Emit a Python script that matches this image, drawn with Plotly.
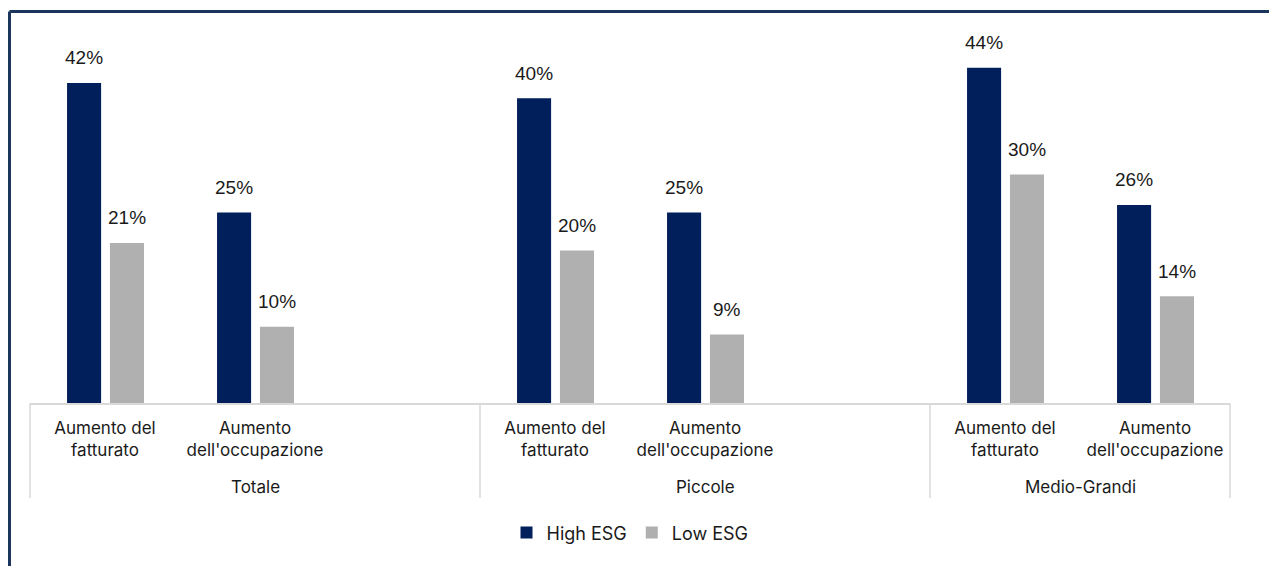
import plotly.graph_objects as go

groups = ["Totale", "Piccole", "Medio-Grandi"]
measures = ["Aumento del<br>fatturato", "Aumento<br>dell'occupazione"]
slots_per_group = [3, 3, 2]
high_esg = [42, 25, 40, 25, 44, 26]
low_esg = [21, 10, 20, 9, 30, 14]
series_names = ["High ESG", "Low ESG"]
colors = ["#001f5b", "#b0b0b0"]

# slot positions derived from structure
starts = []
s = 0
for n in slots_per_group:
    starts.append(s)
    s += n
total_slots = s
xs, ticktext = [], []
for g, st in enumerate(starts):
    for m, lab in enumerate(measures):
        xs.append(st + m)
        ticktext.append(lab)

bar_w = 0.227
offsets = [-0.253, 0.033]
label_font = dict(family="Liberation Sans, Arial", size=19, color="#1a1a1a")
text_font = dict(family="Inter, Noto Sans", size=17, color="#1a1a1a")

fig = go.Figure()
for name, vals, col, off in zip(series_names, [high_esg, low_esg], colors, offsets):
    fig.add_trace(go.Bar(x=xs, y=vals, name=name, marker=dict(color=col, line_width=0),
                         width=bar_w, offset=off, hoverinfo="skip"))
    for x, v in zip(xs, vals):
        fig.add_annotation(x=x + off + bar_w / 2, y=v, text=f"{v}%", showarrow=False,
                           yshift=25, yanchor="middle", font=label_font)

# group labels and dividers
plot_h = 566 - 14 - 171
bounds = starts + [total_slots]
for g, st in enumerate(starts):
    center = st - 0.5 + slots_per_group[g] / 2
    fig.add_annotation(x=center, y=0, yref="y", text=groups[g], showarrow=False,
                       yshift=-84, yanchor="middle", font=text_font)
for b in bounds:
    xp = b / total_slots
    fig.add_shape(type="line", xref="paper", yref="paper", x0=xp, x1=xp, y0=0, y1=-95 / plot_h,
                  line=dict(color="#d9d9d9", width=1.5))

# outer frame
frame = dict(color="#1b365d", width=3)
fig.add_shape(type="line", xref="paper", yref="paper", x0=-0.01708, x1=1.1, y0=1.0276, y1=1.0276, line=frame)
fig.add_shape(type="line", xref="paper", yref="paper", x0=-0.01708, x1=-0.01708, y0=1.0276, y1=-0.6, line=frame)

fig.update_layout(
    width=1277, height=566,
    margin=dict(l=22, r=55, t=14, b=171),
    paper_bgcolor="white", plot_bgcolor="white",
    barmode="overlay",
    showlegend=True,
    legend=dict(orientation="h", x=0.5, xanchor="center", y=-0.341, yanchor="middle",
                font=dict(family="Inter, Noto Sans", size=18, color="#1a1a1a"),
                itemclick=False, traceorder="normal"),
    xaxis=dict(range=[-0.5, total_slots - 0.5], tickvals=xs, ticktext=ticktext,
               showline=True, linecolor="#d9d9d9", linewidth=1.5, ticks="",
               showgrid=False, zeroline=False, tickfont=text_font, ticklabelstandoff=9),
    yaxis=dict(range=[0, 50], visible=False, showgrid=False, zeroline=False),
)
fig.write_html("out.html")
